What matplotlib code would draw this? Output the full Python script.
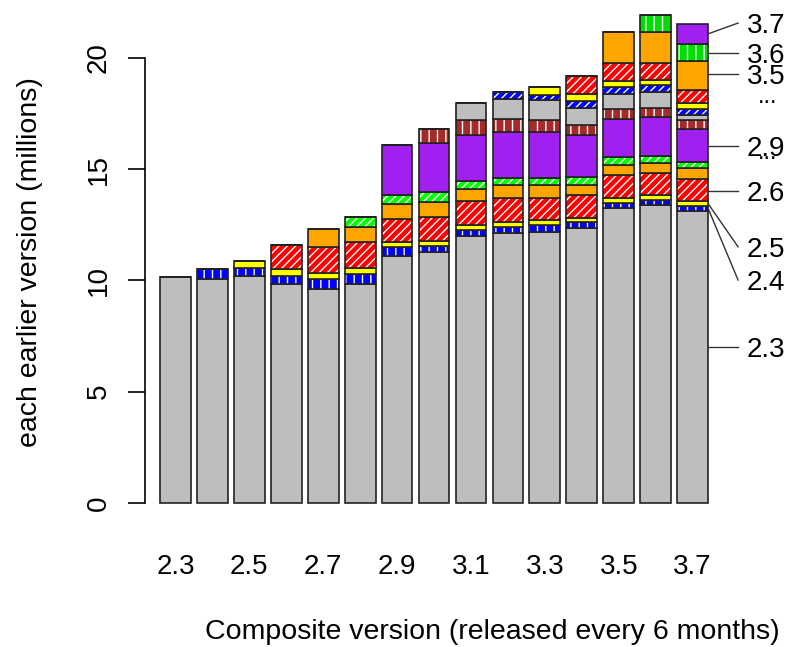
import matplotlib.pyplot as plt
import numpy as np

plt.rcParams['font.family'] = ['Liberation Sans', 'DejaVu Sans']
plt.rcParams['hatch.linewidth'] = 1.0

# composite versions (x axis)
versions = ["2.3", "2.4", "2.5", "2.6", "2.7", "2.8", "2.9", "3.0",
            "3.1", "3.2", "3.3", "3.4", "3.5", "3.6", "3.7"]

# lines of code (millions) in each composite version, by the version they came from
v23 = [10.17, 10.05, 10.20, 9.84, 9.63, 9.84, 11.11, 11.27, 12.00, 12.12, 12.19, 12.34, 13.28, 13.41, 13.14]
v24 = [0.00, 0.47, 0.38, 0.38, 0.44, 0.44, 0.40, 0.29, 0.29, 0.29, 0.30, 0.29, 0.22, 0.22, 0.21]
v25 = [0.00, 0.00, 0.30, 0.28, 0.28, 0.28, 0.21, 0.23, 0.20, 0.22, 0.22, 0.16, 0.21, 0.19, 0.22]
v26 = [0.00, 0.00, 0.00, 1.10, 1.14, 1.16, 1.06, 1.08, 1.10, 1.08, 1.00, 1.07, 1.05, 1.02, 1.00]
v27 = [0.00, 0.00, 0.00, 0.00, 0.81, 0.70, 0.64, 0.64, 0.54, 0.59, 0.59, 0.44, 0.45, 0.43, 0.49]
v28 = [0.00, 0.00, 0.00, 0.00, 0.00, 0.45, 0.44, 0.48, 0.36, 0.32, 0.32, 0.37, 0.36, 0.34, 0.28]
v29 = [0.00, 0.00, 0.00, 0.00, 0.00, 0.00, 2.23, 2.18, 2.06, 2.06, 2.06, 1.88, 1.68, 1.72, 1.49]
v30 = [0.00, 0.00, 0.00, 0.00, 0.00, 0.00, 0.00, 0.64, 0.67, 0.60, 0.54, 0.45, 0.44, 0.44, 0.39]
v31 = [0.00, 0.00, 0.00, 0.00, 0.00, 0.00, 0.00, 0.00, 0.76, 0.86, 0.89, 0.77, 0.71, 0.70, 0.21]
v32 = [0.00, 0.00, 0.00, 0.00, 0.00, 0.00, 0.00, 0.00, 0.00, 0.35, 0.24, 0.29, 0.31, 0.30, 0.26]
v33 = [0.00, 0.00, 0.00, 0.00, 0.00, 0.00, 0.00, 0.00, 0.00, 0.00, 0.36, 0.34, 0.26, 0.26, 0.30]
v34 = [0.00, 0.00, 0.00, 0.00, 0.00, 0.00, 0.00, 0.00, 0.00, 0.00, 0.00, 0.78, 0.81, 0.75, 0.57]
v35 = [0.00, 0.00, 0.00, 0.00, 0.00, 0.00, 0.00, 0.00, 0.00, 0.00, 0.00, 0.00, 1.41, 1.38, 1.32]
v36 = [0.00, 0.00, 0.00, 0.00, 0.00, 0.00, 0.00, 0.00, 0.00, 0.00, 0.00, 0.00, 0.00, 0.75, 0.75]
v37 = [0.00, 0.00, 0.00, 0.00, 0.00, 0.00, 0.00, 0.00, 0.00, 0.00, 0.00, 0.00, 0.00, 0.00, 0.91]

layers = [v23, v24, v25, v26, v27, v28, v29, v30, v31, v32, v33, v34, v35, v36, v37]

colors = ["#BEBEBE", "#0000FF", "#FFFF00", "#FF0000", "#FFA500", "#00FF00", "#A020F0", "#A52A2A",
          "#BEBEBE", "#0000FF", "#FFFF00", "#FF0000", "#FFA500", "#00DD00", "#A020F0"]
hatches = [None, "||", None, "////", None, "////", None, "||",
           None, "////", None, "////", None, "||", None]

# labels on the right of the last bar
side_names = ["3.7", "3.6", "3.5", "2.9", "2.6", "2.5", "2.4", "2.3"]
side_y = [21.57, 20.22, 19.28, 16.04, 14.02, 11.51, 10.02, 7.01]
dots_y = [17.96, 15.48]

fig = plt.figure(figsize=(7.89, 6.47), dpi=100)
ax = fig.add_axes([145 / 789, 137 / 647, 565 / 789, 500 / 647])

x = np.arange(len(versions))
bottom = np.zeros(len(versions))
seg = {}
for i, vals in enumerate(layers):
    vals = np.array(vals)
    ax.bar(x, vals, 0.834, bottom=bottom, color=colors[i], edgecolor="white",
           hatch=hatches[i], linewidth=0)
    ax.bar(x, vals, 0.834, bottom=bottom, facecolor="none", edgecolor="#222222",
           linewidth=1.2)
    seg[versions[i]] = (bottom[-1], bottom[-1] + vals[-1])
    bottom = bottom + vals

ax.set_xlim(-0.823, 14.47)
ax.set_ylim(-0.315, 22.157)

for s in ["top", "right", "bottom"]:
    ax.spines[s].set_visible(False)
ax.spines["left"].set_bounds(0, 20)
ax.spines["left"].set_linewidth(1.2)

ax.set_yticks([0, 5, 10, 15, 20])
ax.set_yticklabels(["0", "5", "10", "15", "20"], rotation=90, va="center", fontsize=20)
ax.tick_params(axis="y", length=12.2, width=1.2, pad=12)

ax.set_xticks(x[::2])
ax.set_xticklabels(versions[::2], fontsize=20)
ax.tick_params(axis="x", length=0, pad=32)

# side labels with leader lines
xr = 14 + 0.834 / 2
for name, ly in zip(side_names, side_y):
    lo, hi = seg[name]
    sy = ly if lo <= ly <= hi else (lo + hi) / 2
    ax.plot([xr, 15.23], [sy, ly], color="#333333", lw=1, clip_on=False)
    ax.text(15.47, ly, name, fontsize=20, ha="left", va="center_baseline", clip_on=False)
for dy in dots_y:
    ax.text(16.04, dy, "...", fontsize=17, ha="center", va="baseline", clip_on=False)

fig.text(492 / 789, 1 - 632 / 647, "Composite version (released every 6 months)",
         fontsize=20.5, ha="center", va="center")
fig.text(30 / 789, 1 - 262 / 647, "each earlier version (millions)",
         fontsize=20.5, ha="center", va="center", rotation=90)

fig.savefig("out.png", dpi=100)
